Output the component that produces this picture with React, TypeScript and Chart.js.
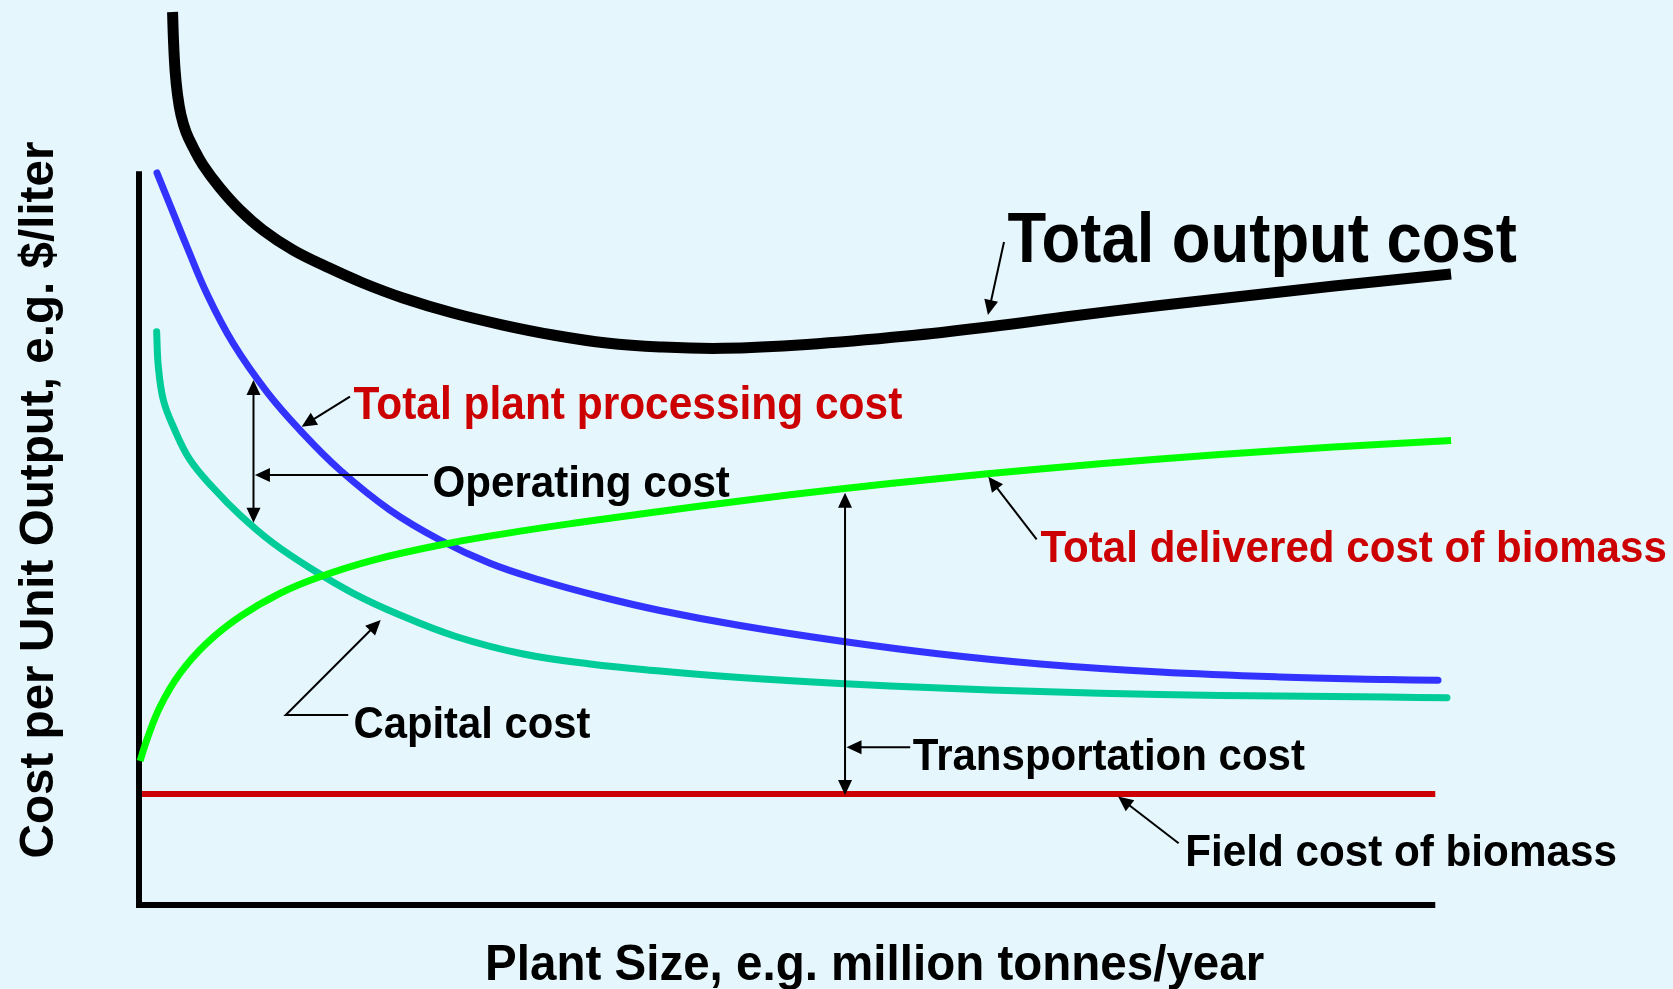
import React, { useEffect, useRef } from "react";
import { Chart, registerables } from "chart.js";

Chart.register(...registerables);

// ---- Data (x: plant size units 0-100, y: cost per unit output 0-100) ----
const totalOutputX = [2.55, 2.62, 2.74, 2.93, 3.19, 3.57, 4.1, 4.86, 6.16, 7.67, 9.42, 11.7, 14.29, 17.02, 20.06, 23.86, 27.66, 31.46, 35.54, 39.59, 44.38, 50.74, 58.34, 64.67, 70.97, 77.58, 82.67, 90.81, 99.7];
const totalOutputY = [99.67, 96.54, 93.19, 90.4, 88.17, 86.27, 84.6, 82.59, 80.02, 77.57, 75.33, 73.1, 71.21, 69.42, 67.75, 66.07, 64.73, 63.62, 62.72, 62.28, 62.13, 62.56, 63.5, 64.54, 65.74, 66.91, 67.75, 69.08, 70.42];

const processingX = [1.37, 2.51, 3.65, 5.17, 7.14, 9.73, 12.23, 15.27, 19.07, 22.87, 26.67, 30.47, 35.03, 39.59, 45.67, 53.27, 60.87, 68.47, 77.58, 86.7, 94.83, 98.71];
const processingY = [81.7, 77.57, 73.44, 68.19, 62.72, 57.25, 53.01, 48.55, 44.08, 40.74, 38.14, 36.27, 34.43, 32.87, 31.19, 29.46, 28.01, 26.9, 26.0, 25.45, 25.17, 25.08];

const capitalX = [1.34, 1.47, 1.85, 2.61, 3.88, 5.65, 7.67, 10.21, 13.24, 16.28, 19.83, 24.14, 29.2, 34.27, 39.59, 45.67, 53.27, 60.87, 68.47, 77.58, 86.7, 94.83, 99.39];
const capitalY = [63.99, 60.08, 56.36, 53.38, 49.67, 46.54, 43.53, 40.37, 37.39, 34.79, 32.37, 29.94, 28.01, 26.9, 26.12, 25.39, 24.72, 24.22, 23.83, 23.49, 23.33, 23.21, 23.13];

const deliveredX = [0.08, 0.59, 1.6, 3.12, 5.14, 7.67, 10.71, 13.75, 17.8, 22.87, 27.94, 33.0, 38.83, 45.67, 53.27, 60.87, 68.47, 77.58, 86.7, 94.83, 99.7];
const deliveredY = [16.07, 18.42, 22.13, 25.86, 29.21, 32.18, 34.79, 36.64, 38.5, 40.18, 41.48, 42.6, 43.77, 45.09, 46.43, 47.6, 48.66, 49.78, 50.73, 51.45, 51.84];

const fieldX = [0.23, 98.5];
const fieldY = [12.4, 12.4];

const xAxisTitle = "Plant Size, e.g. million tonnes/year";
const yAxisTitle = "Cost per Unit Output, e.g. $/liter";

// ---- Annotation texts (positions in data units) ----
const labels = [
  { text: "Total output cost", x1: 66.0, x2: 104.7, y: 71.8, size: 70, color: "#000000" },
  { text: "Total plant processing cost", x1: 16.3, x2: 58.0, y: 54.2, size: 46, color: "#CC0000" },
  { text: "Operating cost", x1: 22.3, x2: 44.9, y: 45.5, size: 44, color: "#000000" },
  { text: "Total delivered cost of biomass", x1: 68.5, x2: 116.1, y: 38.3, size: 45, color: "#CC0000" },
  { text: "Capital cost", x1: 16.3, x2: 34.3, y: 18.6, size: 44, color: "#000000" },
  { text: "Transportation cost", x1: 58.8, x2: 88.6, y: 15.1, size: 44, color: "#000000" },
  { text: "Field cost of biomass", x1: 79.5, x2: 112.3, y: 4.35, size: 44, color: "#000000" },
];

// pointer arrows: polyline points, arrowhead at the last point
const pointers = [
  [[65.73, 74.0], [64.51, 65.85]],
  [[16.03, 56.73], [12.36, 53.38]],
  [[21.96, 47.99], [8.81, 47.99]],
  [[15.9, 21.21], [11.15, 21.21], [18.37, 31.81]],
  [[68.21, 40.81], [64.54, 47.8]],
  [[58.6, 17.6], [53.76, 17.6]],
  [[79.0, 6.9], [74.4, 12.1]],
];
// double-headed arrows: x, yTop, yBottom
const doubleArrows = [
  [8.7, 58.59, 42.67],
  [53.65, 46.02, 12.28],
];

const BG = "#E5F6FD";
const FONT = '"Liberation Sans", Arial, sans-serif';

function toPts(xs: number[], ys: number[]) {
  return xs.map((x, i) => ({ x, y: ys[i] }));
}

function head(ctx: CanvasRenderingContext2D, fx: number, fy: number, tx: number, ty: number, len = 15, hw = 7) {
  const a = Math.atan2(ty - fy, tx - fx);
  ctx.beginPath();
  ctx.moveTo(tx, ty);
  ctx.lineTo(tx - len * Math.cos(a) + hw * Math.sin(a), ty - len * Math.sin(a) - hw * Math.cos(a));
  ctx.lineTo(tx - len * Math.cos(a) - hw * Math.sin(a), ty - len * Math.sin(a) + hw * Math.cos(a));
  ctx.closePath();
  ctx.fill();
}

const annotatePlugin = {
  id: "annotate",
  beforeDraw(chart: any) {
    const ctx = chart.ctx;
    ctx.save();
    ctx.fillStyle = BG;
    ctx.fillRect(0, 0, chart.width, chart.height);
    ctx.restore();
  },
  beforeDatasetsDraw(chart: any) {
    const ctx: CanvasRenderingContext2D = chart.ctx;
    const xs = chart.scales.x;
    const ys = chart.scales.y;
    const px = (v: number) => xs.getPixelForValue(v);
    const py = (v: number) => ys.getPixelForValue(v);
    ctx.save();
    ctx.strokeStyle = "#000";
    ctx.lineWidth = 6;
    ctx.lineCap = "butt";
    ctx.beginPath();
    ctx.moveTo(px(0), py(81.9));
    ctx.lineTo(px(0), py(0));
    ctx.lineTo(px(98.5), py(0));
    ctx.stroke();
    ctx.restore();
  },
  afterDatasetsDraw(chart: any) {
    const ctx: CanvasRenderingContext2D = chart.ctx;
    const xs = chart.scales.x;
    const ys = chart.scales.y;
    const px = (v: number) => xs.getPixelForValue(v);
    const py = (v: number) => ys.getPixelForValue(v);
    ctx.save();
    ctx.strokeStyle = "#000";
    ctx.fillStyle = "#000";
    ctx.lineWidth = 2;
    // pointers
    pointers.forEach((pts) => {
      const p = pts.map(([a, b]) => [px(a), py(b)]);
      const n = p.length;
      const [fx, fy] = p[n - 2];
      const [tx, ty] = p[n - 1];
      const a = Math.atan2(ty - fy, tx - fx);
      ctx.beginPath();
      ctx.moveTo(p[0][0], p[0][1]);
      for (let i = 1; i < n - 1; i++) ctx.lineTo(p[i][0], p[i][1]);
      ctx.lineTo(tx - 10 * Math.cos(a), ty - 10 * Math.sin(a));
      ctx.stroke();
      head(ctx, fx, fy, tx, ty);
    });
    // double arrows
    doubleArrows.forEach(([x, yt, yb]) => {
      const X = px(x), T = py(yt), B = py(yb);
      ctx.beginPath();
      ctx.moveTo(X, T + 10);
      ctx.lineTo(X, B - 10);
      ctx.stroke();
      head(ctx, X, B, X, T);
      head(ctx, X, T, X, B);
    });
    // labels
    ctx.textBaseline = "alphabetic";
    ctx.textAlign = "left";
    labels.forEach((l) => {
      ctx.font = `bold ${l.size}px ${FONT}`;
      const w = ctx.measureText(l.text).width;
      const x1 = px(l.x1), x2 = px(l.x2);
      const sx = (x2 - x1) / w;
      ctx.save();
      ctx.translate(x1, py(l.y));
      ctx.scale(sx, 1);
      ctx.fillStyle = l.color;
      ctx.fillText(l.text, 0, 0);
      ctx.restore();
    });
    // axis titles
    ctx.fillStyle = "#000";
    ctx.font = `bold 50px ${FONT}`;
    {
      const w = ctx.measureText(xAxisTitle).width;
      const x1 = px(26.3), x2 = px(85.5);
      ctx.save();
      ctx.translate(x1, py(-8.4));
      ctx.scale((x2 - x1) / w, 1);
      ctx.fillText(xAxisTitle, 0, 0);
      ctx.restore();
    }
    ctx.font = `bold 48px ${FONT}`;
    {
      const w = ctx.measureText(yAxisTitle).width;
      ctx.save();
      ctx.translate(px(-6.5), py(45.2));
      ctx.rotate(-Math.PI / 2);
      ctx.scale(717 / w, 1);
      ctx.textAlign = "center";
      ctx.fillText(yAxisTitle, 0, 0);
      ctx.restore();
    }
    ctx.restore();
  },
};

export default function App() {
  const ref = useRef<HTMLCanvasElement | null>(null);
  useEffect(() => {
    if (!ref.current) return;
    const line = (data: any, color: string, width: number, cap: CanvasLineCap = "butt") => ({
      data,
      borderColor: color,
      backgroundColor: color,
      borderWidth: width,
      borderCapStyle: cap,
      borderJoinStyle: "round" as CanvasLineJoin,
      pointRadius: 0,
      pointHoverRadius: 0,
      fill: false,
      tension: 0.4,
      clip: false as any,
    });
    const chart = new Chart(ref.current, {
      type: "line",
      data: {
        datasets: [
          line(toPts(fieldX, fieldY), "#CC0000", 6),
          line(toPts(deliveredX, deliveredY), "#00FF00", 7),
          line(toPts(capitalX, capitalY), "#00CC99", 7, "round"),
          line(toPts(processingX, processingY), "#3333FF", 7, "round"),
          line(toPts(totalOutputX, totalOutputY), "#000000", 11),
        ],
      },
      options: {
        animation: false,
        responsive: false,
        devicePixelRatio: 1,
        layout: { padding: { left: 139, right: 218, top: 9, bottom: 84 } },
        plugins: { legend: { display: false }, tooltip: { enabled: false } },
        events: [],
        scales: {
          x: { type: "linear", min: 0, max: 100, display: false },
          y: { type: "linear", min: 0, max: 100, display: false },
        },
      },
      plugins: [annotatePlugin],
    });
    return () => chart.destroy();
  }, []);
  return (
    <div style={{ position: "fixed", left: 0, top: 0, width: 1673, height: 989, background: BG }}>
      <canvas ref={ref} width={1673} height={989} style={{ display: "block" }} />
    </div>
  );
}
